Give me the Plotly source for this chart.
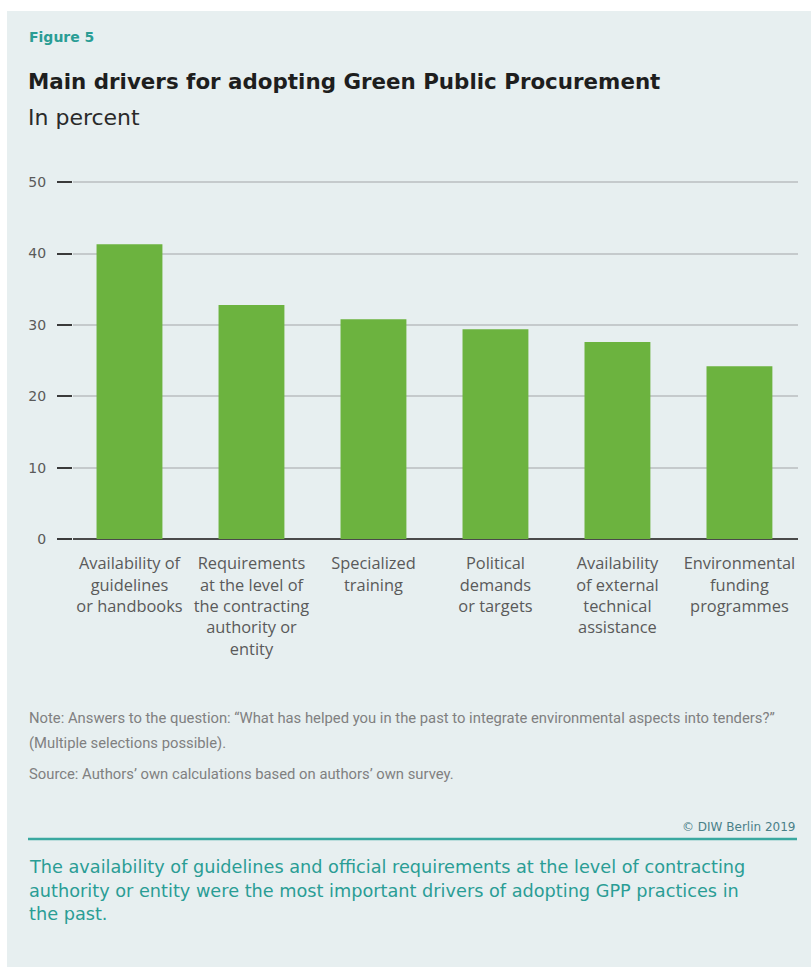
import plotly.graph_objects as go

# Survey results: share of respondents naming each driver (percent)
categories = [
    "Availability of<br>guidelines<br>or handbooks",
    "Requirements<br>at the level of<br>the contracting<br>authority or<br>entity",
    "Specialized<br>training",
    "Political<br>demands<br>or targets",
    "Availability<br>of external<br>technical<br>assistance",
    "Environmental<br>funding<br>programmes",
]
shares = [41.3, 32.8, 30.8, 29.4, 27.6, 24.2]
y_ticks = [0, 10, 20, 30, 40, 50]

W, H = 811, 967
L, R, T, B = 73, 13, 180, 428          # plot-area margins in pixels
PW = W - L - R
PH = H - T - B

PANEL = "#e7eff0"
TEAL = "#2a9d95"
GREEN = "#6cb33f"
FONT = "DejaVu Sans, Verdana, sans-serif"
LABEL_FONT = "Open Sans, DejaVu Sans, sans-serif"
NARROW = "Liberation Sans Narrow, Arial Narrow, Roboto, sans-serif"


def px(x):
    """Horizontal pixel -> paper coordinate."""
    return (x - L) / PW


def py(y):
    """Vertical pixel (from top) -> paper coordinate."""
    return (H - B - y) / PH


fig = go.Figure(
    go.Bar(
        x=list(range(len(categories))),
        y=shares,
        width=0.54,
        marker=dict(color=GREEN, line=dict(width=0)),
        hoverinfo="skip",
    )
)

fig.update_layout(
    width=W,
    height=H,
    margin=dict(l=L, r=R, t=T, b=B, pad=0),
    paper_bgcolor=PANEL,
    plot_bgcolor=PANEL,
    showlegend=False,
    font=dict(family=FONT, color="#555555"),
    xaxis=dict(
        range=[-0.463, 5.48],
        tickvals=list(range(len(categories))),
        ticktext=categories,
        tickfont=dict(family=LABEL_FONT, size=16.4, color="#5a5a5a"),
        ticks="",
        ticklabelstandoff=13,
        showgrid=False,
        zeroline=False,
        showline=False,
        fixedrange=True,
    ),
    yaxis=dict(
        range=[0, 50.3],
        tickvals=y_ticks,
        ticks="outside",
        ticklen=15,
        tickwidth=2,
        tickcolor="#3a3a3a",
        tickfont=dict(family=FONT, size=14, color="#5a5a5a"),
        ticklabelstandoff=8,
        showgrid=True,
        gridcolor="#c5cacc",
        gridwidth=1.5,
        zeroline=True,
        zerolinecolor="#4a4a4a",
        zerolinewidth=2,
        showline=False,
        fixedrange=True,
    ),
)

shapes = [
    # white page margins around the panel
    dict(type="rect", xref="paper", yref="paper", x0=px(0), x1=px(W), y0=py(0), y1=py(11),
         fillcolor="white", line=dict(width=0), layer="above"),
    dict(type="rect", xref="paper", yref="paper", x0=px(0), x1=px(7), y0=py(0), y1=py(H),
         fillcolor="white", line=dict(width=0), layer="above"),
    # teal rule above the key message
    dict(type="line", xref="paper", yref="paper", x0=px(28), x1=px(797), y0=py(839), y1=py(839),
         line=dict(color="#3aa8a0", width=2.5)),
]
fig.update_layout(shapes=shapes)


def label(text, x, y, size, color, weight="normal", anchor="left", family=FONT):
    fig.add_annotation(
        text=text, xref="paper", yref="paper", x=px(x), y=py(y),
        xanchor=anchor, yanchor="middle", showarrow=False, align=anchor,
        font=dict(family=family, size=size, color=color, weight=weight),
    )


label("Figure 5", 27, 37, 14, TEAL, weight="bold")
label("Main drivers for adopting Green Public Procurement", 26, 82, 21.4, "#1e1e1e", weight="bold")
label("In percent", 26, 117, 22, "#2a2a2a")

label("Note: Answers to the question: “What has helped you in the past to integrate "
      "environmental aspects into tenders?”", 27, 718, 14.8, "#808080", family=NARROW)
label("(Multiple selections possible).", 27, 743, 14.8, "#808080", family=NARROW)
label("Source: Authors’ own calculations based on authors’ own survey.", 27, 774, 14.8,
      "#808080", family=NARROW)
label("© DIW Berlin 2019", 797, 827, 12, "#4a8088", anchor="right")

label("The availability of guidelines and official requirements at the level of contracting",
      27, 867, 17.7, TEAL)
label("authority or entity were the most important drivers of adopting GPP practices in",
      27, 891, 17.7, TEAL)
label("the past.", 27, 914, 17.7, TEAL)

fig.write_html("out.html")
